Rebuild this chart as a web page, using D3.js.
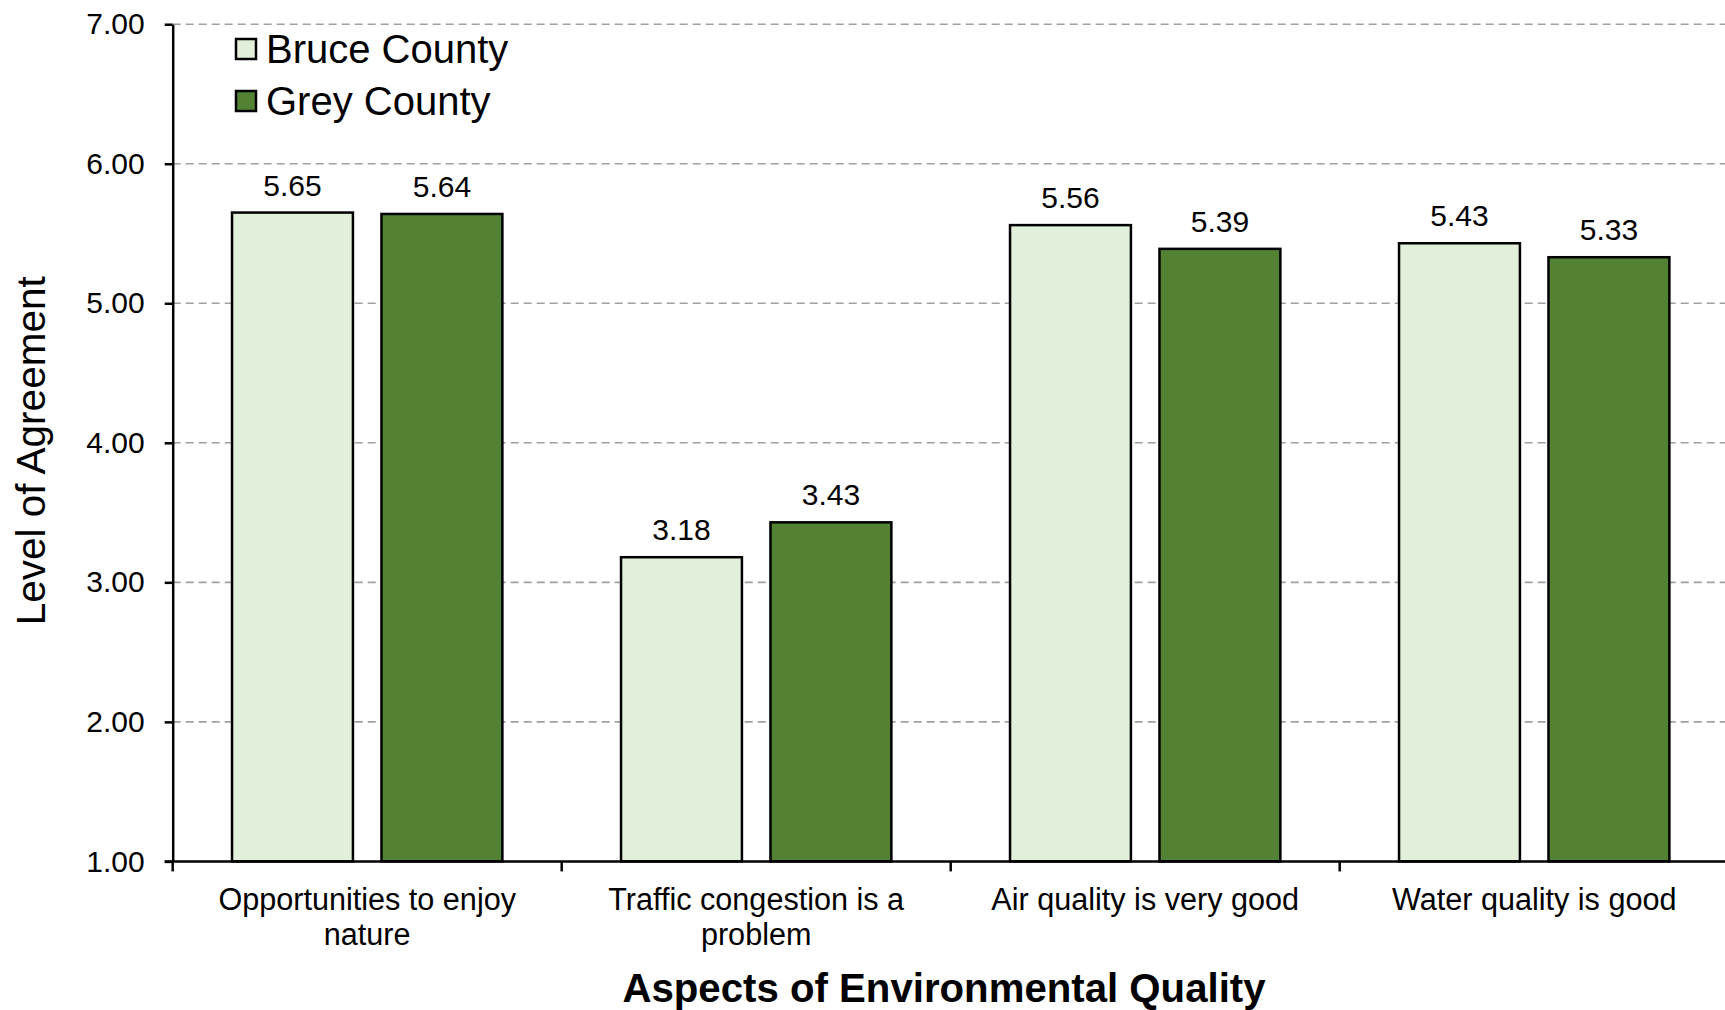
<!DOCTYPE html>
<html><head><meta charset="utf-8">
<script src="https://cdn.jsdelivr.net/npm/d3@7"></script>
<style>html,body{margin:0;padding:0;background:#fff;overflow:hidden}svg{display:block}</style>
</head><body>
<script>
const categories = ["Opportunities to enjoy nature", "Traffic congestion is a problem", "Air quality is very good", "Water quality is good"];
const seriesNames = ["Bruce County", "Grey County"];
const bruceValues = [5.65, 3.18, 5.56, 5.43];
const greyValues = [5.64, 3.43, 5.39, 5.33];
const yTicks = [1, 2, 3, 4, 5, 6, 7];
const colors = ["#e2efda", "#548235"];
const xTitle = "Aspects of Environmental Quality";
const yTitle = "Level of Agreement";

const W = 1725, H = 1010;
const plotL = 172.7, plotT = 24.2, plotB = 861.4, plotR = 1728.7;
const font = "'Liberation Sans', Arial, sans-serif";

const svg = d3.select("body").append("svg").attr("width", W).attr("height", H)
  .style("font-family", font);

const x0 = d3.scaleBand().domain(categories).range([plotL, plotR]).padding(0);
const x1 = d3.scaleBand().domain(seriesNames).range([0, x0.bandwidth()]).paddingInner(0.191).paddingOuter(0.397);
const y = d3.scaleLinear().domain([1, 7]).range([plotB, plotT]);

// gridlines
svg.append("g").selectAll("line").data(yTicks.filter(d => d > 1)).join("line")
  .attr("x1", plotL).attr("x2", W).attr("y1", d => y(d)).attr("y2", d => y(d))
  .attr("stroke", "#a0a0a0").attr("stroke-width", 1.6).attr("stroke-dasharray", "8,5");

// bars
const data = categories.map((c, i) => ({cat: c, vals: [bruceValues[i], greyValues[i]]}));
const g = svg.append("g").selectAll("g").data(data).join("g")
  .attr("transform", d => `translate(${x0(d.cat)},0)`);
g.selectAll("rect").data(d => d.vals.map((v, j) => ({s: seriesNames[j], v, j}))).join("rect")
  .attr("x", d => x1(d.s)).attr("width", x1.bandwidth())
  .attr("y", d => y(d.v)).attr("height", d => y(1) - y(d.v))
  .attr("fill", d => colors[d.j]).attr("stroke", "#000").attr("stroke-width", 2.5);
g.selectAll("text").data(d => d.vals.map((v, j) => ({s: seriesNames[j], v, j}))).join("text")
  .attr("x", d => x1(d.s) + x1.bandwidth() / 2).attr("y", d => y(d.v) - 17)
  .attr("text-anchor", "middle").attr("font-size", 30).attr("fill", "#000")
  .text(d => d.v.toFixed(2));

// y axis
const yAxis = svg.append("g").attr("transform", `translate(${plotL},0)`)
  .call(d3.axisLeft(y).tickValues(yTicks).tickFormat(d3.format(".2f")).tickSize(8).tickPadding(20).tickSizeOuter(0));
yAxis.select(".domain").attr("stroke", "#000").attr("stroke-width", 2.5);
yAxis.selectAll(".tick line").attr("stroke", "#000").attr("stroke-width", 2.5);
yAxis.selectAll(".tick text").attr("font-size", 30).attr("font-family", font).attr("fill", "#000");

// x axis
const xAxis = svg.append("g");
xAxis.append("line").attr("x1", plotL - 8).attr("x2", W).attr("y1", plotB).attr("y2", plotB)
  .attr("stroke", "#000").attr("stroke-width", 2.5);
xAxis.selectAll("line.tk").data(categories).join("line").attr("class", "tk")
  .attr("x1", d => x0(d)).attr("x2", d => x0(d)).attr("y1", plotB).attr("y2", plotB + 10)
  .attr("stroke", "#000").attr("stroke-width", 2.5);

// category labels with wrap
function wrapLines(text, maxW, size) {
  const tmp = svg.append("text").attr("font-size", size);
  const words = text.split(" ");
  const lines = []; let cur = [];
  for (const w of words) {
    cur.push(w);
    tmp.text(cur.join(" "));
    if (tmp.node().getComputedTextLength() > maxW && cur.length > 1) {
      cur.pop(); lines.push(cur.join(" ")); cur = [w];
    }
  }
  lines.push(cur.join(" "));
  tmp.remove();
  return lines;
}
categories.forEach(c => {
  const lines = wrapLines(c, 355, 30.6);
  const t = svg.append("text").attr("text-anchor", "middle").attr("font-size", 30.6).attr("fill", "#000");
  lines.forEach((l, i) => t.append("tspan").attr("x", x0(c) + x0.bandwidth() / 2).attr("y", 910 + i * 35).text(l));
});

// axis titles
svg.append("text").attr("x", 944).attr("y", 1002).attr("text-anchor", "middle")
  .attr("font-size", 40.2).attr("font-weight", "bold").attr("fill", "#000").text(xTitle);
svg.append("text").attr("transform", `translate(31,${(plotT + plotB) / 2 + 8}) rotate(-90)`)
  .attr("text-anchor", "middle").attr("dominant-baseline", "central")
  .attr("font-size", 40.5).attr("fill", "#000").text(yTitle);

// legend
const leg = svg.append("g").selectAll("g").data(seriesNames).join("g")
  .attr("transform", (d, i) => `translate(236,${39 + i * 52})`);
leg.append("rect").attr("width", 20).attr("height", 20)
  .attr("fill", (d, i) => colors[i]).attr("stroke", "#000").attr("stroke-width", 2.5);
leg.append("text").attr("x", 30).attr("y", 24).attr("font-size", 40).attr("fill", "#000").text(d => d);
</script>
</body></html>
